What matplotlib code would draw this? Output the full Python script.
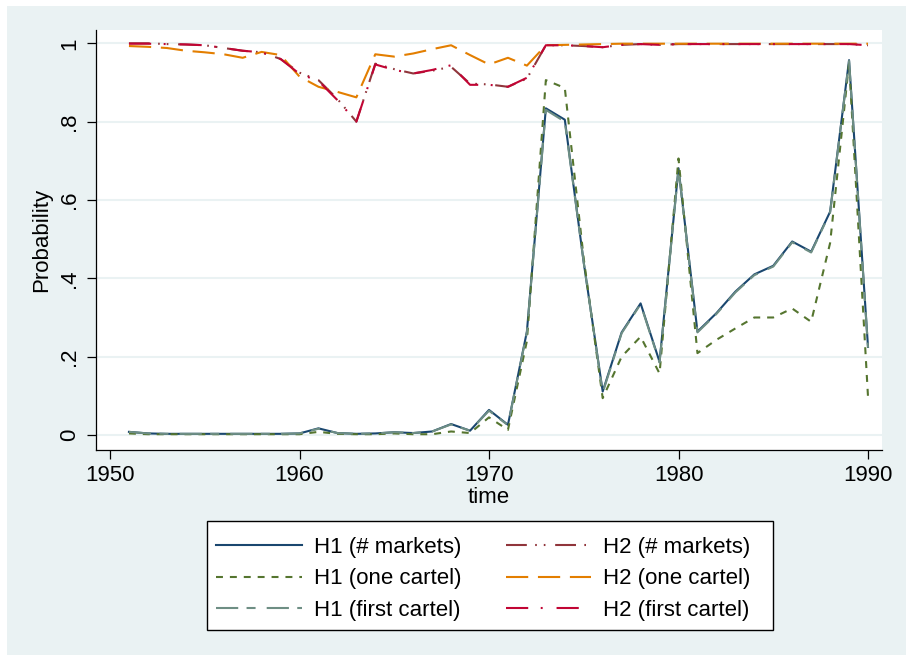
import matplotlib
matplotlib.use("Agg")
import matplotlib.pyplot as plt
from matplotlib.patches import Rectangle

plt.rcParams['font.family'] = ['Liberation Sans', 'DejaVu Sans']
plt.rcParams['lines.scale_dashes'] = False

years = list(range(1951, 1991))

h1_markets = [0.008, 0.004, 0.003, 0.003, 0.003, 0.003, 0.003, 0.003, 0.003, 0.004,
              0.017, 0.005, 0.003, 0.004, 0.007, 0.005, 0.009, 0.028, 0.011, 0.064,
              0.026, 0.264, 0.834, 0.805, 0.440, 0.111, 0.262, 0.336, 0.187, 0.681,
              0.264, 0.311, 0.366, 0.410, 0.432, 0.494, 0.468, 0.570, 0.957, 0.225]
h1_first = [0.008, 0.004, 0.003, 0.003, 0.003, 0.003, 0.003, 0.003, 0.003, 0.004,
            0.016, 0.005, 0.003, 0.004, 0.007, 0.005, 0.009, 0.027, 0.011, 0.062,
            0.025, 0.262, 0.830, 0.800, 0.440, 0.108, 0.260, 0.334, 0.185, 0.678,
            0.262, 0.309, 0.364, 0.408, 0.430, 0.492, 0.466, 0.568, 0.955, 0.223]
h1_one = [0.004, 0.002, 0.002, 0.002, 0.002, 0.002, 0.002, 0.002, 0.002, 0.002,
          0.008, 0.003, 0.002, 0.002, 0.004, 0.002, 0.002, 0.009, 0.005, 0.045,
          0.013, 0.240, 0.906, 0.886, 0.450, 0.094, 0.200, 0.251, 0.157, 0.706,
          0.209, 0.243, 0.272, 0.300, 0.300, 0.323, 0.289, 0.490, 0.950, 0.098]
h2_markets = [1.000, 1.000, 0.998, 0.997, 0.995, 0.988, 0.981, 0.977, 0.960, 0.925,
              0.906, 0.858, 0.800, 0.948, 0.934, 0.923, 0.930, 0.940, 0.897, 0.895,
              0.889, 0.910, 0.995, 0.995, 0.993, 0.990, 0.996, 0.998, 0.996, 0.998,
              0.998, 0.998, 0.998, 0.998, 0.998, 0.998, 0.998, 0.998, 0.998, 0.995]
h2_first = [0.999, 0.999, 0.998, 0.997, 0.995, 0.988, 0.981, 0.977, 0.960, 0.922,
            0.904, 0.855, 0.800, 0.946, 0.932, 0.923, 0.932, 0.944, 0.894, 0.894,
            0.889, 0.912, 0.995, 0.995, 0.993, 0.990, 0.996, 0.998, 0.996, 0.998,
            0.998, 0.998, 0.998, 0.998, 0.998, 0.998, 0.998, 0.998, 0.998, 0.995]
h2_one = [0.993, 0.991, 0.988, 0.981, 0.977, 0.972, 0.963, 0.978, 0.970, 0.915,
          0.889, 0.876, 0.862, 0.972, 0.966, 0.974, 0.985, 0.995, 0.970, 0.946,
          0.963, 0.943, 0.995, 0.996, 0.997, 0.998, 0.999, 0.999, 0.999, 0.999,
          0.999, 0.999, 0.999, 0.999, 0.999, 0.999, 0.999, 0.999, 0.999, 0.999]

labels = ['H1 (# markets)', 'H2 (# markets)', 'H1 (one cartel)',
          'H2 (one cartel)', 'H1 (first cartel)', 'H2 (first cartel)']

W, H = 906, 655
FS = 16
fig = plt.figure(figsize=(W / 100, H / 100), dpi=100, facecolor='white')
fig.patches.append(Rectangle((7 / W, 0), 1, (H - 6) / H, transform=fig.transFigure,
                             facecolor='#EAF2F3', edgecolor='none', zorder=-10))
# legend box
fig.patches.append(Rectangle((207 / W, 1 - 630 / H), (773 - 207) / W, (630 - 521) / H,
                             transform=fig.transFigure, facecolor='white',
                             edgecolor='black', lw=1.0, zorder=-5))

ax = fig.add_axes([96 / W, 1 - 450 / H, (882 - 96) / W, (450 - 30) / H])
ax.set_facecolor('white')

lw = 1.5
series = [
    (h1_markets, '#1A476F', '-'),
    (h2_markets, '#90353B', (0, (15, 6, 1.2, 5, 1.2, 7))),
    (h1_one, '#55752F', (0, (5, 5))),
    (h2_one, '#E37E00', (0, (16, 7))),
    (h1_first, '#6E8E84', (0, (16, 6, 6.5, 8))),
    (h2_first, '#C10534', (0, (16, 9, 1.4, 10))),
]
handles = []
for (vals, col, ls), lab in zip(series, labels):
    ln, = ax.plot(years, vals, color=col, linestyle=ls, lw=lw, label=lab)
    handles.append(ln)

ax.set_xlim(1950 - 14 / 18.95, 1990 + 14 / 18.95)
ax.set_ylim(-15 / 391.7, 1 + 13.3 / 391.7)

ax.set_xticks([1950, 1960, 1970, 1980, 1990])
ax.set_yticks([0, 0.2, 0.4, 0.6, 0.8, 1.0])
ax.set_yticklabels(['0', '.2', '.4', '.6', '.8', '1'], rotation=90, va='center')
ax.grid(axis='y', color='#EAF2F3', lw=1.5)
ax.set_axisbelow(True)
for s in ['top', 'right']:
    ax.spines[s].set_visible(False)
for s in ['left', 'bottom']:
    ax.spines[s].set_color('black')
    ax.spines[s].set_linewidth(0.9)
ax.tick_params(axis='both', length=6.5, width=0.9, color='black', labelsize=FS, pad=4)
ax.tick_params(axis='y', pad=5)

ax.set_xlabel('time', fontsize=FS, labelpad=1)
ax.set_ylabel('Probability', fontsize=FS, labelpad=5)

order = [0, 2, 4, 1, 3, 5]
leg = fig.legend([handles[i] for i in order], [labels[i] for i in order],
                 ncol=2, loc='upper left', bbox_to_anchor=(216 / W, 1 - 537 / H),
                 fontsize=FS, frameon=False,
                 handlelength=3.85, handletextpad=0.55, columnspacing=1.99,
                 labelspacing=0.47, borderpad=0.0, borderaxespad=0)

fig.savefig('out.png', dpi=100, facecolor='white')
